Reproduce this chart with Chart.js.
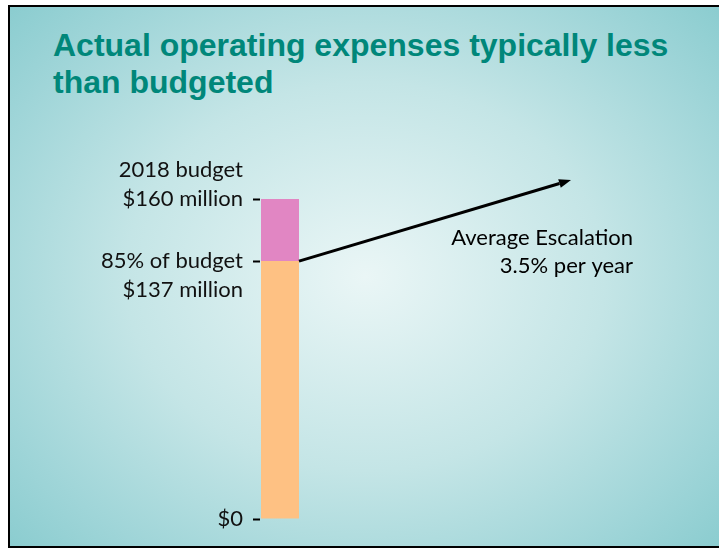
<!DOCTYPE html>
<html>
<head>
<meta charset="utf-8">
<script src="https://cdn.jsdelivr.net/npm/chart.js@4"></script>
<style>
  html, body { margin: 0; padding: 0; background: #fff; }
  body { width: 719px; height: 548px; position: relative; overflow: hidden; }
  .slide {
    position: absolute; left: 8px; top: 5px; width: 711px; height: 539px;
    border-left: 2px solid #000; border-top: 2px solid #000; border-bottom: 2px solid #000;
    background: radial-gradient(ellipse 75% 80% at 50% 50%, #eaf6f6 0%, #c4e5e6 45%, #9fd5d8 75%, #80c8cb 100%);
  }
  .title {
    position: absolute; left: 53px; top: 27px;
    font: bold 32px "Liberation Sans", Arial, sans-serif; line-height: 37px;
    color: #00877a; white-space: nowrap;
  }
  canvas { position: absolute; left: 0; top: 0; }
</style>
</head>
<body>
<div class="slide"></div>
<div class="title">Actual operating expenses typically less<br>than budgeted</div>
<canvas id="budgetChart" width="719" height="548"></canvas>
<script>
/* ---------- DATA ---------- */
const categories = ["2018"];
const actualSpend = [137];      // $ million (85% of budget)
const budgetTotal = [160];      // $ million
const tickValues = [0, 137, 160];
const tickLabels = [
  ["$0"],
  ["", "85% of budget", "$137 million"],
  ["2018 budget", "$160 million", ""]
];
const escalationText = ["Average Escalation", "3.5% per year"];

const unusedBudget = budgetTotal.map((b, i) => b - actualSpend[i]);

/* ---------- SCALE (slide is drawn not-to-scale: break at 137) ---------- */
const BREAK_VALUE = actualSpend[0];
const BREAK_FRAC = 0.806;

class BudgetScale extends Chart.LinearScale {
  getPixelForValue(value) {
    const top = this.max;
    let d;
    if (value <= BREAK_VALUE) d = (value - this.min) / (BREAK_VALUE - this.min) * BREAK_FRAC;
    else d = BREAK_FRAC + (value - BREAK_VALUE) / (top - BREAK_VALUE) * (1 - BREAK_FRAC);
    return this.getPixelForDecimal(d);
  }
  getValueForPixel(pixel) {
    const d = this.getDecimalForPixel(pixel);
    if (d <= BREAK_FRAC) return this.min + d / BREAK_FRAC * (BREAK_VALUE - this.min);
    return BREAK_VALUE + (d - BREAK_FRAC) / (1 - BREAK_FRAC) * (this.max - BREAK_VALUE);
  }
}
BudgetScale.id = "budget";
BudgetScale.defaults = {};
Chart.register(BudgetScale);

/* ---------- ESCALATION ARROW ---------- */
const escalationArrow = {
  id: "escalationArrow",
  afterDatasetsDraw(chart) {
    const bar = chart.getDatasetMeta(0).data[0];
    if (!bar) return;
    const ctx = chart.ctx;
    const x0 = bar.x + bar.width / 2;
    const y0 = bar.y;
    const x1 = x0 + 272;
    const y1 = y0 - 81;
    const ang = Math.atan2(y1 - y0, x1 - x0);
    const head = 12, half = 4.5;

    ctx.save();
    ctx.strokeStyle = "#000";
    ctx.fillStyle = "#000";
    ctx.lineWidth = 3;
    ctx.beginPath();
    ctx.moveTo(x0, y0);
    ctx.lineTo(x1 - head * Math.cos(ang), y1 - head * Math.sin(ang));
    ctx.stroke();
    ctx.beginPath();
    ctx.moveTo(x1, y1);
    ctx.lineTo(x1 - head * Math.cos(ang) + half * Math.sin(ang), y1 - head * Math.sin(ang) - half * Math.cos(ang));
    ctx.lineTo(x1 - head * Math.cos(ang) - half * Math.sin(ang), y1 - head * Math.sin(ang) + half * Math.cos(ang));
    ctx.closePath();
    ctx.fill();

    ctx.font = "22px Lato, sans-serif";
    ctx.textAlign = "right";
    ctx.textBaseline = "middle";
    ctx.fillText(escalationText[0], x0 + 334, y0 - 23);
    ctx.fillText(escalationText[1], x0 + 334, y0 + 5);
    ctx.restore();
  }
};

/* ---------- CHART ---------- */
new Chart(document.getElementById("budgetChart"), {
  type: "bar",
  data: {
    labels: categories,
    datasets: [
      {
        label: "Actual",
        data: actualSpend,
        backgroundColor: "#fec183",
        borderWidth: 0,
        barPercentage: 1,
        categoryPercentage: 0.95
      },
      {
        label: "Unused budget",
        data: unusedBudget,
        backgroundColor: "#e186c3",
        borderWidth: 0,
        barPercentage: 1,
        categoryPercentage: 0.95
      }
    ]
  },
  options: {
    responsive: false,
    animation: false,
    layout: {
      padding: { left: 0, right: 419, top: 199, bottom: 29 }
    },
    plugins: {
      legend: { display: false },
      tooltip: { enabled: false }
    },
    scales: {
      x: {
        stacked: true,
        display: false
      },
      y: {
        type: "budget",
        stacked: true,
        min: 0,
        max: 160,
        afterFit: s => { s.width = 260; },
        afterBuildTicks: s => { s.ticks = tickValues.map(v => ({ value: v })); },
        border: { display: false },
        grid: {
          drawOnChartArea: false,
          drawTicks: true,
          tickLength: 7,
          tickWidth: 2,
          tickColor: "#000"
        },
        ticks: {
          padding: 10,
          color: "#111",
          font: { family: "Lato", size: 22, lineHeight: 1.3 },
          callback: (v, i) => tickLabels[i]
        }
      }
    }
  },
  plugins: [escalationArrow]
});
</script>
</body>
</html>
